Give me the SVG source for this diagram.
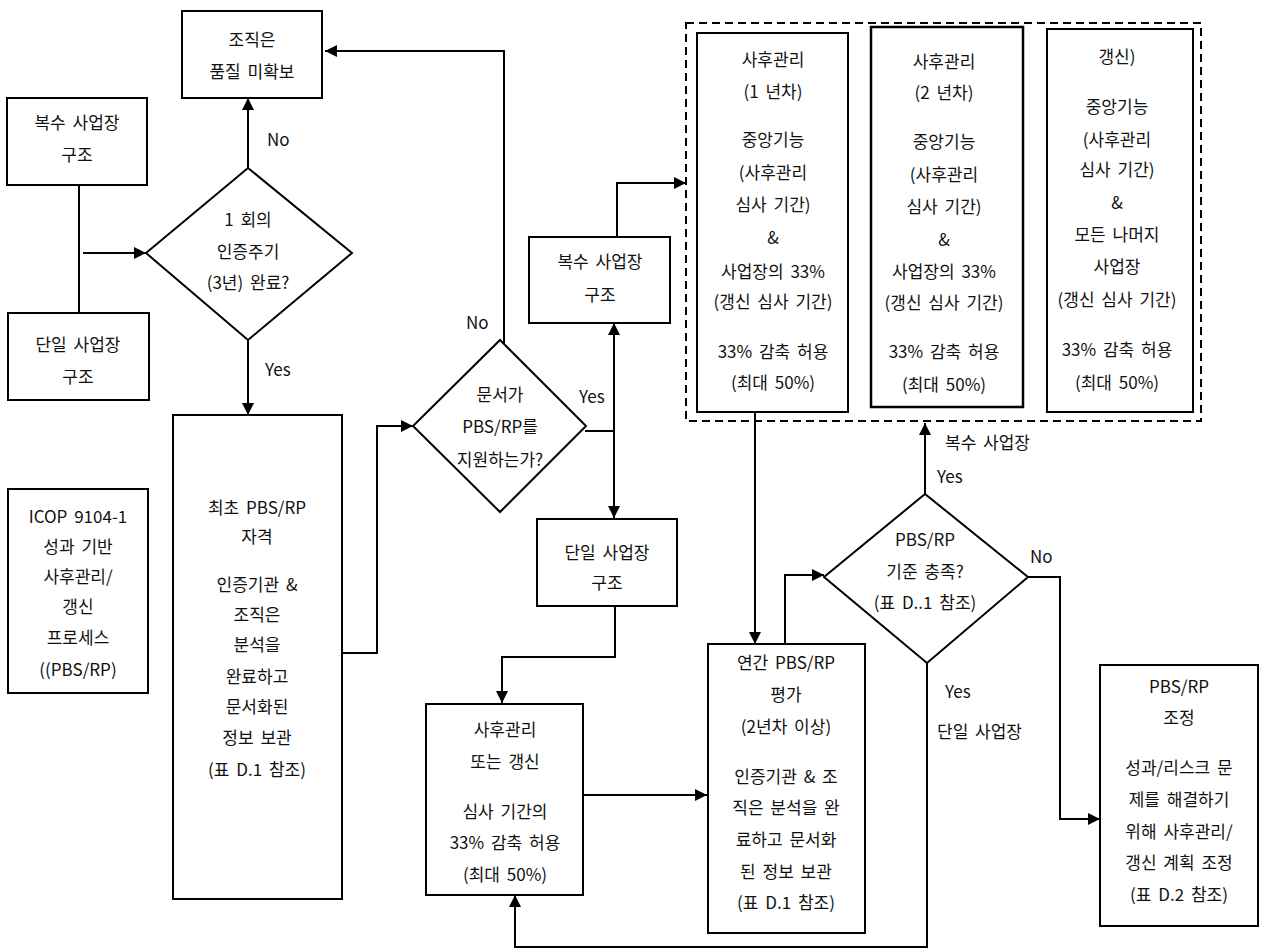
<svg xmlns="http://www.w3.org/2000/svg" width="1265" height="949" viewBox="0 0 1265 949">
<style>
.b{fill:#fff;stroke:#000;stroke-width:2}
.c{fill:none;stroke:#000;stroke-width:2}
.d{fill:none;stroke:#000;stroke-width:2;stroke-dasharray:8 5}
text{font-family:"Noto Sans CJK KR","Malgun Gothic",sans-serif;font-size:17px;fill:#111;text-anchor:middle;word-spacing:3px}
.l{text-anchor:start}
</style>
<defs>
<marker id="ah" markerWidth="13" markerHeight="13" refX="12" refY="6" orient="auto" markerUnits="userSpaceOnUse">
<path d="M0,0 L12,6 L0,12 z" fill="#000"/>
</marker>
</defs>
<rect width="1265" height="949" fill="#fff"/>

<g id="connectors">
<path class="c" d="M79,185 V313"/>
<path class="c" d="M83,253 H146" marker-end="url(#ah)"/>
<path class="c" d="M248,168 V98" marker-end="url(#ah)"/>
<path class="c" d="M248,340 V415" marker-end="url(#ah)"/>
<path class="c" d="M342,653 H377 V426 H413" marker-end="url(#ah)"/>
<path class="c" d="M504,344 V51 H325" marker-end="url(#ah)"/>
<path class="c" d="M585,431 H614"/>
<path class="c" d="M614,431 V323" marker-end="url(#ah)"/>
<path class="c" d="M614,431 V518" marker-end="url(#ah)"/>
<path class="c" d="M617,237 V183 H686" marker-end="url(#ah)"/>
<path class="c" d="M615,606 V657 H502 V703" marker-end="url(#ah)"/>
<path class="c" d="M583,795 H707" marker-end="url(#ah)"/>
<path class="c" d="M755,412 V644" marker-end="url(#ah)"/>
<path class="c" d="M785,644 V575 H824" marker-end="url(#ah)"/>
<path class="c" d="M925,494 V423" marker-end="url(#ah)"/>
<path class="c" d="M1028,577 H1060 V819 H1100" marker-end="url(#ah)"/>
<path class="c" d="M927,663 V947 H515 V895" marker-end="url(#ah)"/>
<text class="l" x="267" y="146">No</text>
<text class="l" x="265" y="376">Yes</text>
<text class="l" x="466" y="329">No</text>
<text class="l" x="579" y="403">Yes</text>
<text class="l" x="945" y="449">복수 사업장</text>
<text class="l" x="937" y="483">Yes</text>
<text class="l" x="1030" y="563">No</text>
<text class="l" x="945" y="698">Yes</text>
<text class="l" x="937" y="738">단일 사업장</text>
</g>

<g id="no-quality">
<rect class="b" x="182" y="11" width="140" height="87"/>
<text x="252" y="46">조직은</text>
<text x="252" y="78">품질 미확보</text>
</g>

<g id="multi-left">
<rect class="b" x="7" y="98" width="140" height="87"/>
<text x="77" y="129">복수 사업장</text>
<text x="77" y="161">구조</text>
</g>

<g id="single-left">
<rect class="b" x="8" y="313" width="141" height="87"/>
<text x="78" y="351">단일 사업장</text>
<text x="78" y="383">구조</text>
</g>

<g id="decision-cycle">
<polygon class="b" points="248,168 352,253 248,340 146,253"/>
<text x="248" y="226">1 회의</text>
<text x="248" y="258">인증주기</text>
<text x="248" y="289">(3년) 완료?</text>
</g>

<g id="icop">
<rect class="b" x="8" y="489" width="140" height="204"/>
<text x="78" y="523">ICOP 9104-1</text>
<text x="78" y="553">성과 기반</text>
<text x="78" y="583">사후관리/</text>
<text x="78" y="613">갱신</text>
<text x="78" y="644">프로세스</text>
<text x="78" y="676">((PBS/RP)</text>
</g>

<g id="initial">
<rect class="b" x="173" y="415" width="169" height="484"/>
<text x="257" y="514">최초 PBS/RP</text>
<text x="257" y="543">자격</text>
<text x="257" y="591">인증기관 &amp;</text>
<text x="257" y="621">조직은</text>
<text x="257" y="651">분석을</text>
<text x="257" y="683">완료하고</text>
<text x="257" y="713">문서화된</text>
<text x="257" y="744">정보 보관</text>
<text x="257" y="776">(표 D.1 참조)</text>
</g>

<g id="decision-doc">
<polygon class="b" points="500,340 586,426 500,512 413,426"/>
<text x="500" y="401">문서가</text>
<text x="500" y="433">PBS/RP를</text>
<text x="500" y="466">지원하는가?</text>
</g>

<g id="multi-mid">
<rect class="b" x="529" y="237" width="141" height="86"/>
<text x="600" y="268">복수 사업장</text>
<text x="600" y="301">구조</text>
</g>

<g id="single-mid">
<rect class="b" x="537" y="519" width="140" height="87"/>
<text x="607" y="559">단일 사업장</text>
<text x="607" y="589">구조</text>
</g>

<g id="surveil">
<rect class="b" x="426" y="704" width="157" height="191"/>
<text x="505" y="736">사후관리</text>
<text x="505" y="768">또는 갱신</text>
<text x="505" y="818">심사 기간의</text>
<text x="505" y="849">33% 감축 허용</text>
<text x="505" y="881">(최대 50%)</text>
</g>

<g id="annual">
<rect class="b" x="708" y="644" width="157" height="289"/>
<text x="786" y="669">연간 PBS/RP</text>
<text x="786" y="701">평가</text>
<text x="786" y="733">(2년차 이상)</text>
<text x="786" y="783">인증기관 &amp; 조</text>
<text x="786" y="814">직은 분석을 완</text>
<text x="786" y="846">료하고 문서화</text>
<text x="786" y="878">된 정보 보관</text>
<text x="786" y="909">(표 D.1 참조)</text>
</g>

<g id="decision-criteria">
<polygon class="b" points="925,494 1028,577 927,663 824,577"/>
<text x="925" y="546">PBS/RP</text>
<text x="925" y="578">기준 충족?</text>
<text x="925" y="609">(표 D..1 참조)</text>
</g>

<g id="adjust">
<rect class="b" x="1100" y="665" width="158" height="261"/>
<text x="1179" y="693">PBS/RP</text>
<text x="1179" y="724">조정</text>
<text x="1179" y="774">성과/리스크 문</text>
<text x="1179" y="806">제를 해결하기</text>
<text x="1179" y="838">위해 사후관리/</text>
<text x="1179" y="869">갱신 계획 조정</text>
<text x="1179" y="901">(표 D.2 참조)</text>
</g>

<g id="multi-group">
<rect class="d" x="686" y="23" width="515" height="398"/>
</g>

<g id="year1">
<rect class="b" x="697" y="33" width="151" height="379"/>
<text x="773" y="66">사후관리</text>
<text x="773" y="98">(1 년차)</text>
<text x="773" y="146">중앙기능</text>
<text x="773" y="179">(사후관리</text>
<text x="773" y="211">심사 기간)</text>
<text x="773" y="244">&amp;</text>
<text x="773" y="278">사업장의 33%</text>
<text x="773" y="308">(갱신 심사 기간)</text>
<text x="773" y="358">33% 감축 허용</text>
<text x="773" y="389">(최대 50%)</text>
</g>

<g id="year2">
<rect class="b" x="871" y="27" width="152" height="380" style="stroke-width:2.5"/>
<text x="944" y="68">사후관리</text>
<text x="944" y="99">(2 년차)</text>
<text x="944" y="148">중앙기능</text>
<text x="944" y="181">(사후관리</text>
<text x="944" y="213">심사 기간)</text>
<text x="944" y="246">&amp;</text>
<text x="944" y="278">사업장의 33%</text>
<text x="944" y="309">(갱신 심사 기간)</text>
<text x="944" y="358">33% 감축 허용</text>
<text x="944" y="391">(최대 50%)</text>
</g>

<g id="renewal">
<rect class="b" x="1047" y="29" width="146" height="383"/>
<text x="1117" y="63">갱신)</text>
<text x="1117" y="113">중앙기능</text>
<text x="1117" y="146">(사후관리</text>
<text x="1117" y="176">심사 기간)</text>
<text x="1117" y="209">&amp;</text>
<text x="1117" y="241">모든 나머지</text>
<text x="1117" y="273">사업장</text>
<text x="1117" y="306">(갱신 심사 기간)</text>
<text x="1117" y="356">33% 감축 허용</text>
<text x="1117" y="389">(최대 50%)</text>
</g>
</svg>
